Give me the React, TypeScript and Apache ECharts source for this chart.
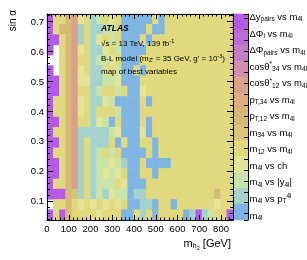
import React, { useEffect, useRef } from 'react';
import * as echarts from 'echarts';

const FF = '"Liberation Sans", Arial, Helvetica, sans-serif';

// colour-bar categories (top to bottom)
const variableLabels = [
  'Δy{s|pairs} vs m{s|4l}',
  'ΔΦ{s|l} vs m{s|4l}',
  'ΔΦ{s|pairs} vs m{s|4l}',
  'cosθ{p|*}{s|34} vs m{s|4l}',
  'cosθ{p|*}{s|12} vs m{s|4l}',
  'p{s|T,34} vs m{s|4l}',
  'p{s|T,12} vs m{s|4l}',
  'm{s|34} vs m{s|4l}',
  'm{s|12} vs m{s|4l}',
  'm{s|4l} vs ch',
  'm{s|4l} vs |y{s|4l}|',
  'm{s|4l} vs p{s|T}{p|4l}',
  'm{s|4l}',
];
const variableColors = [
  '#b45ae6', '#bb6cd8', '#c47ec6', '#d08fae', '#dba08a', '#dfae7e', '#d6b977',
  '#d9c47a', '#e1d97d', '#e3e495', '#c9e3a8', '#a4d3cc', '#7fb5e2',
];
// one letter per category, W = no point
const variableCodes = 'PQRSOATMYLGCB';

const massRange = [0, 855];
const sinAlphaRange = [0.036, 0.724];

// best variable per (m_h2 bin, sin alpha bin); rows from top (largest sin alpha) to bottom
const bestVariableMap = [
  'PYYTOLYCGY' + 'LYBBBBBYBYYY' + 'YYYYYYYY',
  'PYTTOCYCCG' + 'GYBBBBYBBYYY' + 'YYYYYYYY',
  'PPYTOCYCLY' + 'GYBBBYBYYYYY' + 'YYYYYYYY',
  'PWYTOLYCCL' + 'YGBBBBYYYYYY' + 'YYYYYYYY',
  'WWYTOYYCGG' + 'LYBBBYYYYYYY' + 'YYYYYYYY',
  'PWYTOLYCCY' + 'YGBBYBYYYYYY' + 'YYYYYYYY',
  'PPYTOLLCCG' + 'GLBBBYYYYYYY' + 'YYYYYYYY',
  'PPYTOYYCGY' + 'YGYBBLYYYYYY' + 'YYYYYYYY',
  'PYYTOLYCCL' + 'GBBBBYBYYYYY' + 'YYYYYYYY',
  'PYYTOLYCYY' + 'YGBBBYYYYYYY' + 'YYYYYYYY',
  'PPYTOYYCLG' + 'BYBBBYBYYYYY' + 'YYYYYYYY',
  'PYYTOCCCCC' + 'GLBBBLBYYYYY' + 'YYYYYYYY',
  'PPYTOCYCCC' + 'YBYBBYYBYYYY' + 'YYYYYYYY',
  'PYYTOCYCGY' + 'GYBBBBYBYYYY' + 'YYYYYYYY',
  'PPYTOCYCGG' + 'LGCBBYBBBBYY' + 'YYYYYYYY',
  'PPYTOCYCGL' + 'GLYBBYYBYYYY' + 'YYYYYYYY',
  'PYYTOCYCGG' + 'GYLBBBYYYYYY' + 'YYYYYYYY',
  'PPPTMCYCGC' + 'LGGBCCYYYYYY' + 'YYYYYTYY',
  'WYYTYLYLYL' + 'YLYBBCCBYYBY' + 'YYYYYLYY',
  'PYPTYYYYLY' + 'YYBBYCYBYYYY' + 'BCPCGYYP',
];

const PLOT = { left: 47, top: 14, width: 186, height: 206, outerBoundsMode: 'none', containLabel: false };
const BAR = { left: 233, top: 14, width: 15, height: 206, outerBoundsMode: 'none', containLabel: false };

export default function App() {
  const ref = useRef<HTMLDivElement>(null);
  useEffect(() => {
    const chart = echarts.init(ref.current!, null, { renderer: 'svg' });
    const nRows = bestVariableMap.length;
    const nCols = bestVariableMap[0].length;
    const cells: number[][] = [];
    bestVariableMap.forEach((row, r) => {
      for (let c = 0; c < nCols; c++) {
        const k = variableCodes.indexOf(row[c]);
        if (k >= 0) cells.push([c, nRows - 1 - r, k]);
      }
    });
    const barCells = variableLabels.map((_, i) => [0, i, i]);

    const black = { color: '#000', width: 1 };
    const hiddenX = (g: number) => ({ type: 'category', gridIndex: g, data: ['0'], show: false });
    const tickLabel = { fontSize: 9.5, color: '#000', fontFamily: FF };
    const rich = {
      s: { fontSize: 6.5, fontFamily: FF, color: '#000', padding: [5, 0, 0, 0] },
      p: { fontSize: 6.5, fontFamily: FF, color: '#000', padding: [0, 0, 5, 0] },
    };

    const option: any = {
      animation: false,
      grid: [
        { ...PLOT },
        { ...PLOT },
        { ...PLOT },
        { ...BAR },
        { ...BAR },
        { ...BAR },
      ],
      xAxis: [
        { type: 'category', gridIndex: 0, data: Array.from({ length: nCols }, (_, i) => String(i)), show: false },
        {
          type: 'value', gridIndex: 1, position: 'bottom', min: massRange[0], max: massRange[1], interval: 100, z: 10,
          axisLine: { show: true, onZero: false, lineStyle: black },
          axisTick: { show: true, inside: true, length: 5, lineStyle: black },
          minorTick: { show: true, splitNumber: 5, length: 2.5, lineStyle: black },
          axisLabel: { ...tickLabel, margin: 3, showMaxLabel: false },
          splitLine: { show: false },
        },
        {
          type: 'value', gridIndex: 2, position: 'top', min: massRange[0], max: massRange[1], interval: 100, z: 10,
          axisLine: { show: true, onZero: false, lineStyle: black },
          axisTick: { show: true, inside: true, length: 5, lineStyle: black },
          minorTick: { show: true, splitNumber: 5, length: 2.5, lineStyle: black },
          axisLabel: { show: false },
          splitLine: { show: false },
        },
        { type: 'category', gridIndex: 3, data: ['0'], show: false },
        hiddenX(4),
        hiddenX(5),
      ],
      yAxis: [
        { type: 'category', gridIndex: 0, data: Array.from({ length: nRows }, (_, i) => String(i)), show: false },
        {
          type: 'value', gridIndex: 1, position: 'left', min: sinAlphaRange[0], max: sinAlphaRange[1], splitNumber: 7, z: 10,
          axisLine: { show: true, onZero: false, lineStyle: black },
          axisTick: { show: true, inside: true, length: 6, lineStyle: black },
          minorTick: { show: true, splitNumber: 5, length: 3, lineStyle: black },
          axisLabel: { ...tickLabel, margin: 3, showMinLabel: false, showMaxLabel: false, formatter: (v: number) => v.toFixed(1) },
          splitLine: { show: false },
        },
        {
          type: 'value', gridIndex: 2, position: 'right', min: sinAlphaRange[0], max: sinAlphaRange[1], splitNumber: 7, z: 10,
          axisLine: { show: true, onZero: false, lineStyle: black },
          axisTick: { show: true, inside: true, length: 6, lineStyle: black },
          minorTick: { show: true, splitNumber: 5, length: 3, lineStyle: black },
          axisLabel: { show: false },
          splitLine: { show: false },
        },
        { type: 'category', gridIndex: 3, inverse: true, data: variableLabels.map((_, i) => String(i)), show: false },
        {
          type: 'value', gridIndex: 4, position: 'right', inverse: true, min: -0.15, max: 12.3, splitNumber: 12, z: 10,
          axisLine: { show: true, onZero: false, lineStyle: black },
          axisTick: { show: false },
          splitLine: { show: false },
          axisLabel: {
            fontSize: 9.5, color: '#000', fontFamily: FF, margin: 1.5, showMinLabel: false, showMaxLabel: false,
            rich,
            formatter: (v: number) => {
              const k = Math.round(v);
              return Math.abs(v - k) < 1e-6 && k >= 0 && k < variableLabels.length ? variableLabels[k] : '';
            },
          },
        },
        {
          type: 'value', gridIndex: 5, position: 'right', inverse: true, min: -0.4, max: 18.6, splitNumber: 19, z: 10,
          axisLine: { show: false },
          axisTick: { show: true, inside: true, length: 4, lineStyle: black },
          axisLabel: { show: false },
          splitLine: { show: false },
        },
      ],
      visualMap: {
        type: 'piecewise', show: false, dimension: 2, seriesIndex: [0, 1],
        pieces: variableColors.map((c, i) => ({ value: i, color: c })),
      },
      series: [
        { type: 'heatmap', xAxisIndex: 0, yAxisIndex: 0, data: cells, itemStyle: { borderWidth: 0 } },
        { type: 'heatmap', xAxisIndex: 3, yAxisIndex: 3, data: barCells, itemStyle: { borderWidth: 0 } },
      ],
      graphic: [
        { type: 'text', x: 101, y: 28, z: 20, style: { text: 'ATLAS', fontSize: 8.5, fontWeight: 'bold', fontStyle: 'italic', fontFamily: FF, fill: '#000', verticalAlign: 'middle' } },
        {
          type: 'text', x: 101, y: 43, z: 20, style: {
            text: '√s = 13 TeV, 139 fb{p|-1}', fontSize: 8, fontFamily: FF, fill: '#000', verticalAlign: 'middle',
            rich: { p: { fontSize: 5.5, fontFamily: FF, fill: '#000', padding: [0, 0, 4, 0] } },
          },
        },
        {
          type: 'text', x: 101, y: 58, z: 20, style: {
            text: "B-L model (m{s|Z'} = 35 GeV, g' = 10{p|-3})", fontSize: 8, fontFamily: FF, fill: '#000', verticalAlign: 'middle',
            rich: {
              s: { fontSize: 5.5, fontFamily: FF, fill: '#000', padding: [4, 0, 0, 0] },
              p: { fontSize: 5.5, fontFamily: FF, fill: '#000', padding: [0, 0, 4, 0] },
            },
          },
        },
        { type: 'text', x: 101, y: 71, z: 20, style: { text: 'map of best variables', fontSize: 8, fontFamily: FF, fill: '#000', verticalAlign: 'middle' } },
        {
          type: 'text', x: 231, y: 243, style: {
            text: 'm{s|h}{ss|2} [GeV]', fontSize: 11, fontFamily: FF, fill: '#000', align: 'right', verticalAlign: 'middle',
            rich: {
              s: { fontSize: 7.5, fontFamily: FF, fill: '#000', padding: [5, 0, 0, 0] },
              ss: { fontSize: 5.5, fontFamily: FF, fill: '#000', padding: [9, 0, 0, 0] },
            },
          },
        },
        {
          type: 'text', x: 12, y: 10, rotation: Math.PI / 2, style: {
            text: 'sin α', fontSize: 10, fontFamily: FF, fill: '#000', align: 'right', verticalAlign: 'middle',
          },
        },
      ],
    };
    chart.setOption(option);
    return () => chart.dispose();
  }, []);
  return <div ref={ref} style={{ position: 'fixed', left: 0, top: 0, width: 307, height: 260 }} />;
}
